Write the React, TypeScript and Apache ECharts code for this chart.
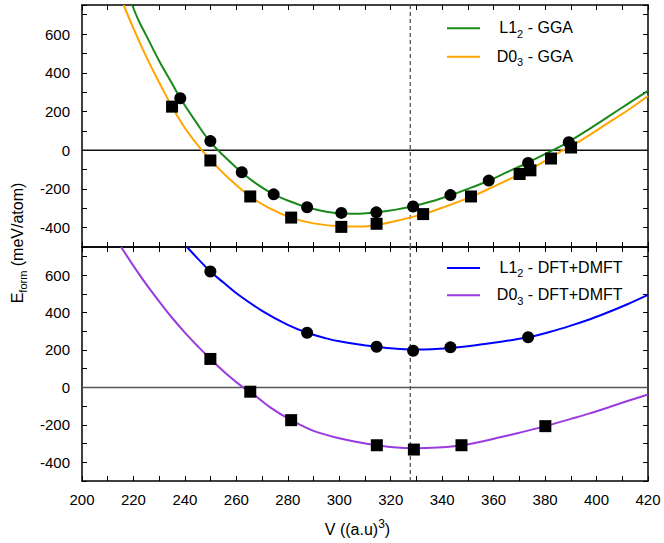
import React, { useEffect, useRef } from "react";
import * as echarts from "echarts";

// ---- data ----
// Top panel (GGA)
const ggaL12X = [238.2, 249.9, 262.1, 274.5, 287.5, 300.8, 314.4, 328.7, 343.2, 358.1, 373.4, 389.2];
const ggaL12Y = [268, 47, -114, -228, -295, -324, -321, -291, -232, -157, -66, 41];
const ggaD03X = [235.0, 249.9, 265.4, 281.3, 300.8, 314.5, 332.6, 351.2, 370.1, 374.3, 382.3, 390.1];
const ggaD03Y = [225, -53, -239, -348, -396, -380, -330, -239, -123, -104, -43, 14];
// Bottom panel (DFT+DMFT)
const dmftL12X = [249.9, 287.5, 314.5, 328.7, 343.2, 373.4];
const dmftL12Y = [619, 292, 217, 196, 214, 268];
const dmftD03X = [249.9, 265.4, 281.3, 314.6, 329.0, 347.5, 380.1];
const dmftD03Y = [152, -23, -175, -309, -332, -309, -207];

// fitted curves as [V, E]
const ggaL12Curve = [[219.5,750],[222,670],[225,592],[230,461],[235,345],[238.2,268],[245,132],[250,40],[255,-28],[262,-114],[268,-175],[274.5,-228],[281,-265],[287.5,-295],[295,-318],[302,-327],[308,-328],[315,-320],[322,-307],[328.5,-290],[336,-264],[343,-234],[350,-200],[358,-158],[365,-115],[373,-66],[383,0],[389,42],[397,108],[405,177],[412,238],[420,306]];
const ggaD03Curve = [[216.2,750],[220,629],[225,482],[230,350],[235,225],[240,115],[245,26],[249.9,-50],[257,-145],[265.4,-239],[273,-300],[281.3,-348],[290,-378],[300.8,-393],[308,-394],[314.6,-386],[322,-366],[332.6,-330],[340,-297],[351,-242],[360,-188],[370,-125],[378,-70],[387,0],[392,35],[405,145],[412,205],[420,280]];
const dmftL12Curve = [[240.8,750],[245,688],[249.9,619],[255,560],[260,503],[270,409],[280,334],[287.5,292],[295,262],[300,246],[307,230],[314.5,217],[321,208],[328.7,203],[336,204],[343,210],[350,220],[360,238],[373.4,268],[382,297],[390,330],[398,367],[405,404],[412,444],[420,494]];
const dmftD03Curve = [[215.2,750],[220,649],[225,550],[230,459],[235,372],[240,293],[245,220],[249.9,152],[257,62],[262.6,0],[265.4,-23],[273,-105],[281.3,-175],[290,-232],[300,-272],[307,-292],[314.5,-309],[321,-320],[329,-325],[336,-323],[340,-320],[347.5,-309],[355,-290],[362,-268],[370,-242],[380.1,-207],[390,-168],[397,-140],[405,-105],[412,-73],[420,-38]];

const xMin = 200;
const xMax = 420;
const yMin = -500;
const yMax = 750;
const refV = 327.6;

const legendTop = ["L1|2| - GGA", "D0|3| - GGA"];
const legendBottom = ["L1|2| - DFT+DMFT", "D0|3| - DFT+DMFT"];

const FONT = "'Liberation Sans', Arial, Helvetica, sans-serif";
const GREEN = "#1a8a1a";
const ORANGE = "#ffa500";
const BLUE = "#0000ff";
const PURPLE = "#9a3be0";

const zip = (xs: number[], ys: number[]) => xs.map((x, i) => [x, ys[i]]);

export default function App() {
  const ref = useRef<HTMLDivElement>(null);
  useEffect(() => {
    const chart = echarts.init(ref.current!, null, { renderer: "svg" });

    const tick = { show: true, inside: true, length: 5, lineStyle: { color: "#000", width: 1 } };
    const line = { show: true, onZero: false, lineStyle: { color: "#000", width: 1.5 } };
    const xAx = (gridIndex: number, position: string, labels: boolean) => ({
      type: "value", gridIndex, position, min: xMin, max: xMax, interval: 10,
      axisLine: line, axisTick: tick, splitLine: { show: false },
      axisLabel: labels
        ? { show: true, margin: 11, color: "#000", fontSize: 15, fontFamily: FONT,
            formatter: (v: number) => (v % 20 === 0 ? String(v) : "") }
        : { show: false },
    });
    const yAx = (gridIndex: number, position: string, labels: boolean) => ({
      type: "value", gridIndex, position, min: yMin, max: yMax, interval: 100,
      axisLine: line, axisTick: tick, splitLine: { show: false },
      axisLabel: labels
        ? { show: true, margin: 12, color: "#000", fontSize: 15, fontFamily: FONT,
            formatter: (v: number) => (v % 200 === 0 ? String(v) : "") }
        : { show: false },
    });

    const curve = (data: number[][], color: string, xi: number, yi: number) => ({
      type: "line", data, xAxisIndex: xi, yAxisIndex: yi, smooth: 0.35, showSymbol: false,
      symbol: "none", clip: true, silent: true, z: 3,
      lineStyle: { color, width: 2 },
    });
    const pts = (data: number[][], symbol: string, xi: number, yi: number) => ({
      type: "scatter", data, xAxisIndex: xi, yAxisIndex: yi, symbol, symbolSize: 12,
      itemStyle: { color: "#000", opacity: 1 }, z: 5, silent: true,
    });
    const hline = (color: string, xi: number, yi: number) => ({
      type: "line", data: [[xMin, 0], [xMax, 0]], xAxisIndex: xi, yAxisIndex: yi,
      symbol: "none", silent: true, z: 2, lineStyle: { color, width: 1.5 },
    });
    const vline = (xi: number, yi: number) => ({
      type: "line", data: [[refV, yMin], [refV, yMax]], xAxisIndex: xi, yAxisIndex: yi,
      symbol: "none", silent: true, z: 2, lineStyle: { color: "#555", width: 1.3, type: [4, 3] },
    });

    const rich = {
      m: { fontSize: 16, lineHeight: 16, verticalAlign: "top", fontFamily: FONT, fill: "#000", color: "#000" },
      s: { fontSize: 11, lineHeight: 19.5, verticalAlign: "bottom", fontFamily: FONT, fill: "#000", color: "#000" },
    };
    const richText = (label: string) => {
      const [a, b, c] = label.split("|");
      return `{m|${a}}{s|${b}}{m|${c}}`;
    };
    const legendItem = (label: string, color: string, y: number, xRight: number) => [
      { type: "line", shape: { x1: 447, y1: y, x2: 480, y2: y }, style: { stroke: color, lineWidth: 2 }, silent: true },
      { type: "text", x: xRight, y: y - 8.7, silent: true,
        style: { text: richText(label), rich, align: "right", verticalAlign: "top" } },
    ];

    chart.setOption({
      animation: false,
      backgroundColor: "#fff",
      grid: [
        { left: 82, top: 5, width: 566, height: 242, outerBoundsMode: "none", containLabel: false },
        { left: 82, top: 247, width: 566, height: 234, outerBoundsMode: "none", containLabel: false },
      ],
      xAxis: [xAx(0, "bottom", false), xAx(0, "top", false), xAx(1, "bottom", true), xAx(1, "top", false)],
      yAxis: [yAx(0, "left", true), yAx(0, "right", false), yAx(1, "left", true), yAx(1, "right", false)],
      series: [
        hline("#111", 0, 0),
        vline(0, 0),
        curve(ggaL12Curve, GREEN, 0, 0),
        curve(ggaD03Curve, ORANGE, 0, 0),
        pts(zip(ggaL12X, ggaL12Y), "circle", 0, 0),
        pts(zip(ggaD03X, ggaD03Y), "rect", 0, 0),
        hline("#555", 2, 2),
        vline(2, 2),
        curve(dmftL12Curve, BLUE, 2, 2),
        curve(dmftD03Curve, PURPLE, 2, 2),
        pts(zip(dmftL12X, dmftL12Y), "circle", 2, 2),
        pts(zip(dmftD03X, dmftD03Y), "rect", 2, 2),
      ],
      graphic: [
        ...legendItem(legendTop[0], GREEN, 28.3, 573),
        ...legendItem(legendTop[1], ORANGE, 56.7, 573),
        ...legendItem(legendBottom[0], BLUE, 268, 622.5),
        ...legendItem(legendBottom[1], PURPLE, 295.3, 622.5),
        {
          type: "text", x: 19, y: 243, rotation: Math.PI / 2, silent: true,
          style: { text: "{m|E}{s|form}{m| (meV/atom)}", rich, align: "center", verticalAlign: "middle" },
        },
        {
          type: "text", x: 357.5, y: 518.4, silent: true,
          style: {
            text: "{b|V ((a.u)}{p|3}{b|)}",
            rich: {
              b: { fontSize: 16, lineHeight: 16, verticalAlign: "bottom", fontFamily: FONT, fill: "#000" },
              p: { fontSize: 12, lineHeight: 19, verticalAlign: "top", fontFamily: FONT, fill: "#000" },
            },
            align: "center", verticalAlign: "top",
          },
        },
      ],
    });
    return () => chart.dispose();
  }, []);
  return <div ref={ref} style={{ width: 664, height: 543, position: "absolute", left: 0, top: 0 }} />;
}
